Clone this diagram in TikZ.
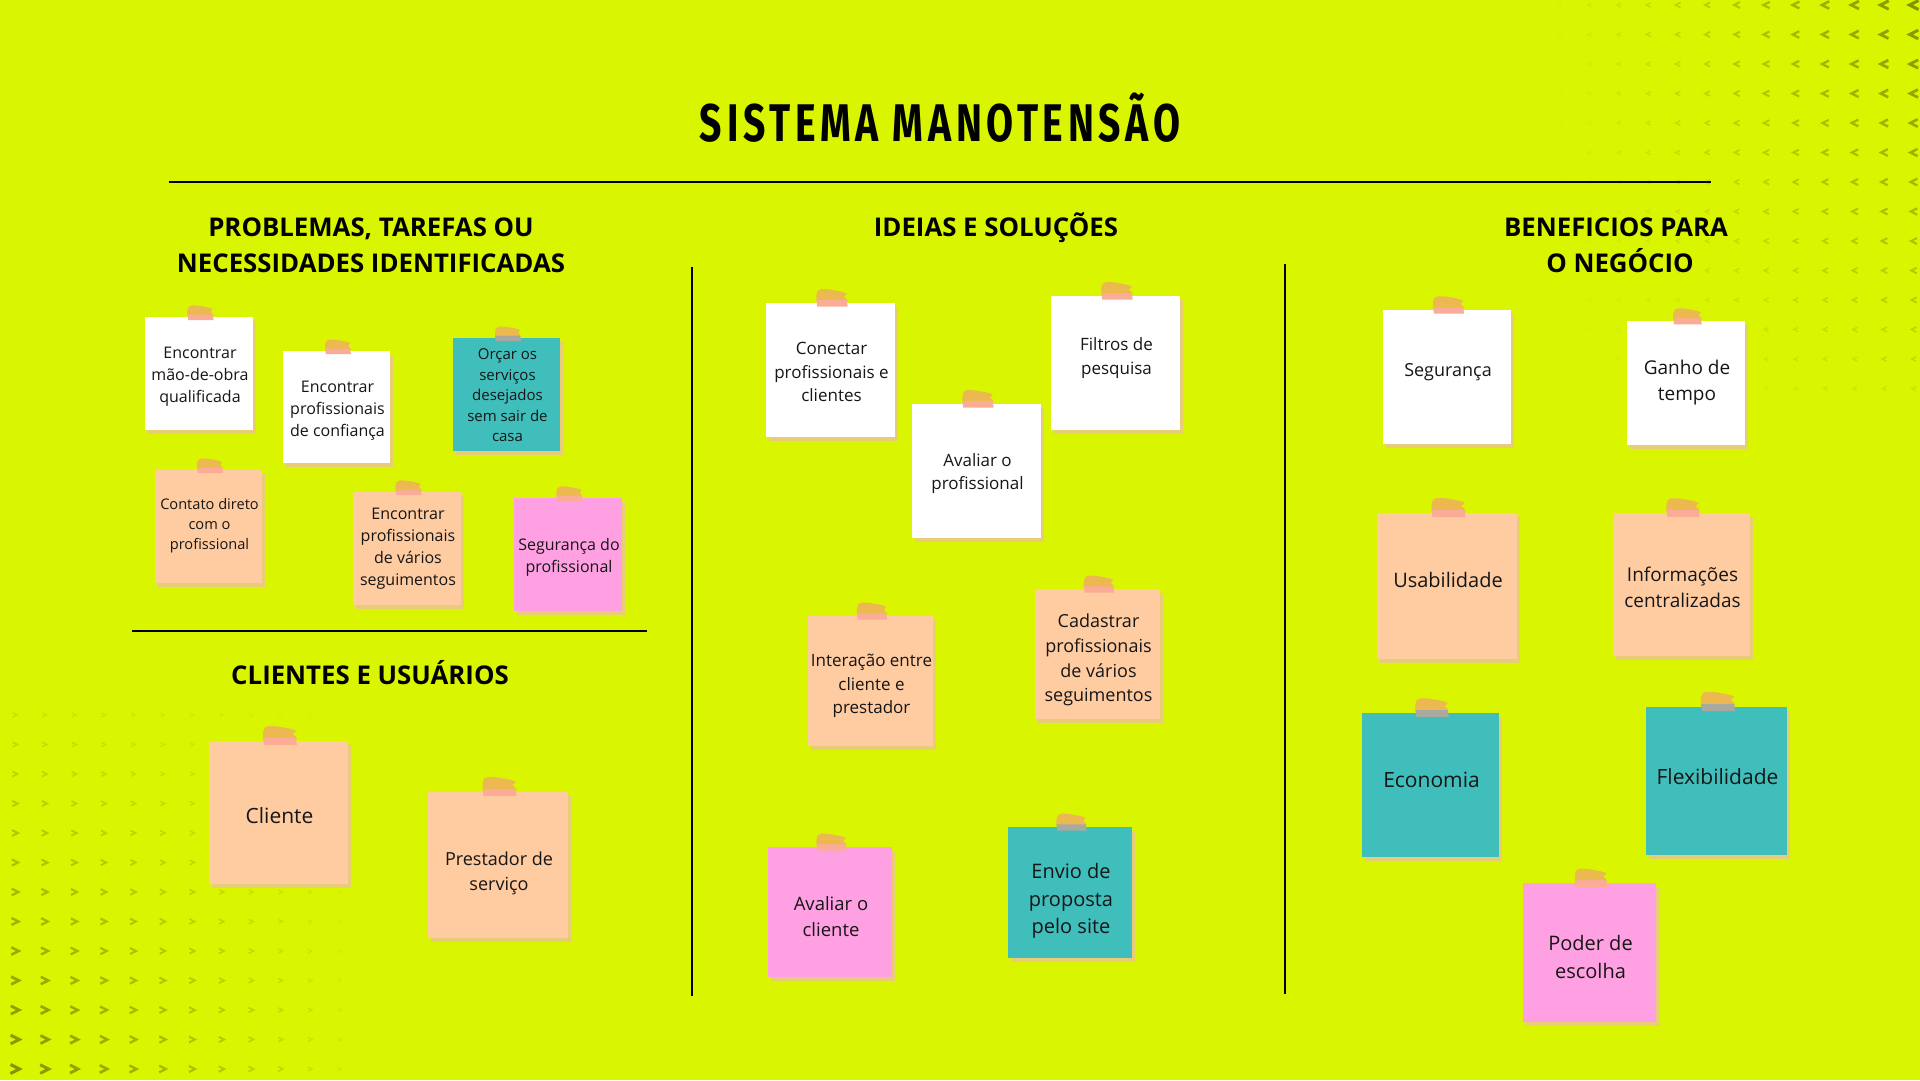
\documentclass[tikz,border=0pt]{standalone}
\usepackage{fontspec}
\usepackage{graphicx}
\setmainfont{Open Sans}
\newfontfamily\titlefont{Fira Sans}[LetterSpace=12]
\definecolor{bgc}{RGB}{218,245,0}
\definecolor{chevc}{RGB}{130,148,0}
\definecolor{notewhite}{RGB}{255,255,255}
\definecolor{notepeach}{RGB}{255,203,161}
\definecolor{noteteal}{RGB}{64,190,188}
\definecolor{notepink}{RGB}{255,160,226}
\definecolor{shadowc}{RGB}{232,204,120}
\definecolor{tapeo}{RGB}{236,185,80}
\definecolor{tpink}{RGB}{250,172,150}
\definecolor{tgrey}{RGB}{168,170,160}
\definecolor{textc}{RGB}{22,22,22}
\colorlet{stripnotewhite}{tpink}
\colorlet{stripnotepeach}{tpink}
\colorlet{stripnotepink}{tpink}
\colorlet{stripnoteteal}{tgrey}
\tikzset{
  notebody/.style={draw=none, inner sep=0pt, outer sep=0pt, rectangle},
  notetext/.style={text=textc, align=center, inner sep=0pt},
  header/.style={font=\bfseries\fontsize{25.8}{36}\selectfont, text=black, anchor=base, inner sep=0pt},
  divider/.style={line width=2pt, draw=black},
  chevron/.style={draw=chevc, line join=miter, line cap=butt}
}
\newcommand\sticky[9]{%
  \pgfmathsetmacro\cx{(#2+#4)/2}%
  \pgfmathsetmacro\cy{(#3+#5)/2}%
  \pgfmathsetmacro\nw{#4-#2}%
  \pgfmathsetmacro\nh{#5-#3}%
  \pgfmathsetmacro\lsk{1.37*#8}%
  \pgfmathsetmacro\tsc{\nw/140}%
  \fill[shadowc] (#2+3,#3+4) rectangle (#4+3,#5+4);
  \node[notebody, fill=#6, minimum width=\nw pt, minimum height=\nh pt] (#1) at (\cx,\cy) {};
  \node[notetext, font={\fontsize{#8}{\lsk}\selectfont}] (#1-t) at (\cx+1,#7) {#9};
  \begin{scope}[shift={(\cx+1.5,#3)}, scale=\tsc]
    \fill[tapeo, rounded corners=2pt] (-17,-1) -- (-17,-11) -- (-14,-15) -- (-4,-15) -- (12,-12) -- (17,-10) -- (12,-7) -- (17,-4) -- (17,-1) -- cycle;
    \fill[strip#6] (-17,-3) -- (16,-3) -- (17,4) -- (-16,4) -- cycle;
  \end{scope}
}
\begin{document}
\begin{tikzpicture}[x=1pt,y=-1pt]
\useasboundingbox (0,0) rectangle (1920,1080);
\fill[bgc] (0,0) rectangle (1920,1080);

% chevron patterns
\foreach \i in {0,...,12}{
  \foreach \j in {0,...,13}{
    \pgfmathsetmacro\al{((\i+1)/13)^1.2*max(0,1-\j/16)}
    \pgfmathsetmacro\s{3+6*\al}
    \draw[chevron, line width={0.34*\s}, opacity=\al] ({1560+29.5*\i+\s/2},{5+29.5*\j-\s/2}) -- ++({-\s},{\s/2}) -- ++({\s},{\s/2});
  }
}
\foreach \i in {0,...,11}{
  \foreach \j in {0,...,12}{
    \pgfmathsetmacro\al{(1-\i/12.5)*(0.2+0.8*\j/12)}
    \pgfmathsetmacro\s{3+6*\al}
    \draw[chevron, line width={0.34*\s}, opacity=\al] ({15+29.5*\i-\s/2},{715+29.5*\j-\s/2}) -- ++({\s},{\s/2}) -- ++({-\s},{\s/2});
  }
}

% title and dividers
\node[anchor=base, inner sep=0pt] (title) at (940,141) {\resizebox{480pt}{\height}{\titlefont\bfseries\fontsize{53}{53}\selectfont SISTEMA MANOTENS\~AO}};
\draw[divider] (169,182) -- (1711,182);
\draw[divider] (132,631) -- (647,631);
\draw[divider] (692,267) -- (692,996);
\draw[divider] (1285,264) -- (1285,994);

% headers
\node[header] (h1a) at (371,236) {PROBLEMAS, TAREFAS OU};
\node[header] (h1b) at (371,272) {NECESSIDADES IDENTIFICADAS};
\node[header] (h2) at (996,236) {IDEIAS E SOLUÇÕES};
\node[header] (h3a) at (1616,236) {BENEFICIOS PARA};
\node[header] (h3b) at (1620,272) {O NEGÓCIO};
\node[header] (h4) at (370,684) {CLIENTES E USUÁRIOS};

% problems
\sticky{p1}{145}{317}{253}{430}{notewhite}{377}{16}{Encontrar\\mão-de-obra\\qualificada}
\sticky{p2}{283}{351}{390}{463}{notewhite}{411}{16}{Encontrar\\profissionais\\de confiança}
\sticky{p3}{453}{338}{560}{451}{noteteal}{395.5}{15}{Orçar os\\serviços\\desejados\\sem sair de\\casa}
\sticky{p4}{155}{470}{262}{583}{notepeach}{526}{14.6}{Contato direto\\com o\\profissional}
\sticky{p5}{353}{492}{461}{605}{notepeach}{549}{16}{Encontrar\\profissionais\\de vários\\seguimentos}
\sticky{p6}{514}{498}{622}{611}{notepink}{557}{16}{Segurança do\\profissional}

% clients
\sticky{c1}{209}{741}{348}{884}{notepeach}{816}{21}{Cliente}
\sticky{c2}{428}{792}{568}{938}{notepeach}{873}{18}{Prestador de\\serviço}

% ideas
\sticky{i1}{766}{303}{895}{437}{notewhite}{372}{17}{Conectar\\profissionais e\\clientes}
\sticky{i3}{1051}{296}{1180}{430}{notewhite}{358}{17}{Filtros de\\pesquisa}
\sticky{i2}{912}{404}{1041}{538}{notewhite}{473.5}{17}{Avaliar o\\profissional}
\sticky{i4}{808}{616}{933}{746}{notepeach}{686}{17}{Interação entre\\cliente e\\prestador}
\sticky{i5}{1035}{589}{1160}{719}{notepeach}{660}{18}{Cadastrar\\profissionais\\de vários\\seguimentos}
\sticky{i6}{768}{847}{892}{977}{notepink}{916.5}{18.5}{Avaliar o\\cliente}
\sticky{i7}{1008}{827}{1132}{958}{noteteal}{901}{20}{Envio de\\proposta\\pelo site}

% benefits
\sticky{b1}{1383}{310}{1511}{444}{notewhite}{372}{18}{Segurança}
\sticky{b2}{1627}{321}{1745}{445}{notewhite}{383}{19}{Ganho de\\tempo}
\sticky{b3}{1377}{513}{1517}{659}{notepeach}{580}{20}{Usabilidade}
\sticky{b4}{1613}{513}{1750}{656}{notepeach}{587}{19}{Informações\\centralizadas}
\sticky{b5}{1362}{713}{1499}{857}{noteteal}{780}{21}{Economia}
\sticky{b6}{1646}{707}{1787}{855}{noteteal}{777}{21}{Flexibilidade}
\sticky{b7}{1523}{883}{1656}{1022}{notepink}{957}{20}{Poder de\\escolha}
\end{tikzpicture}
\end{document}
